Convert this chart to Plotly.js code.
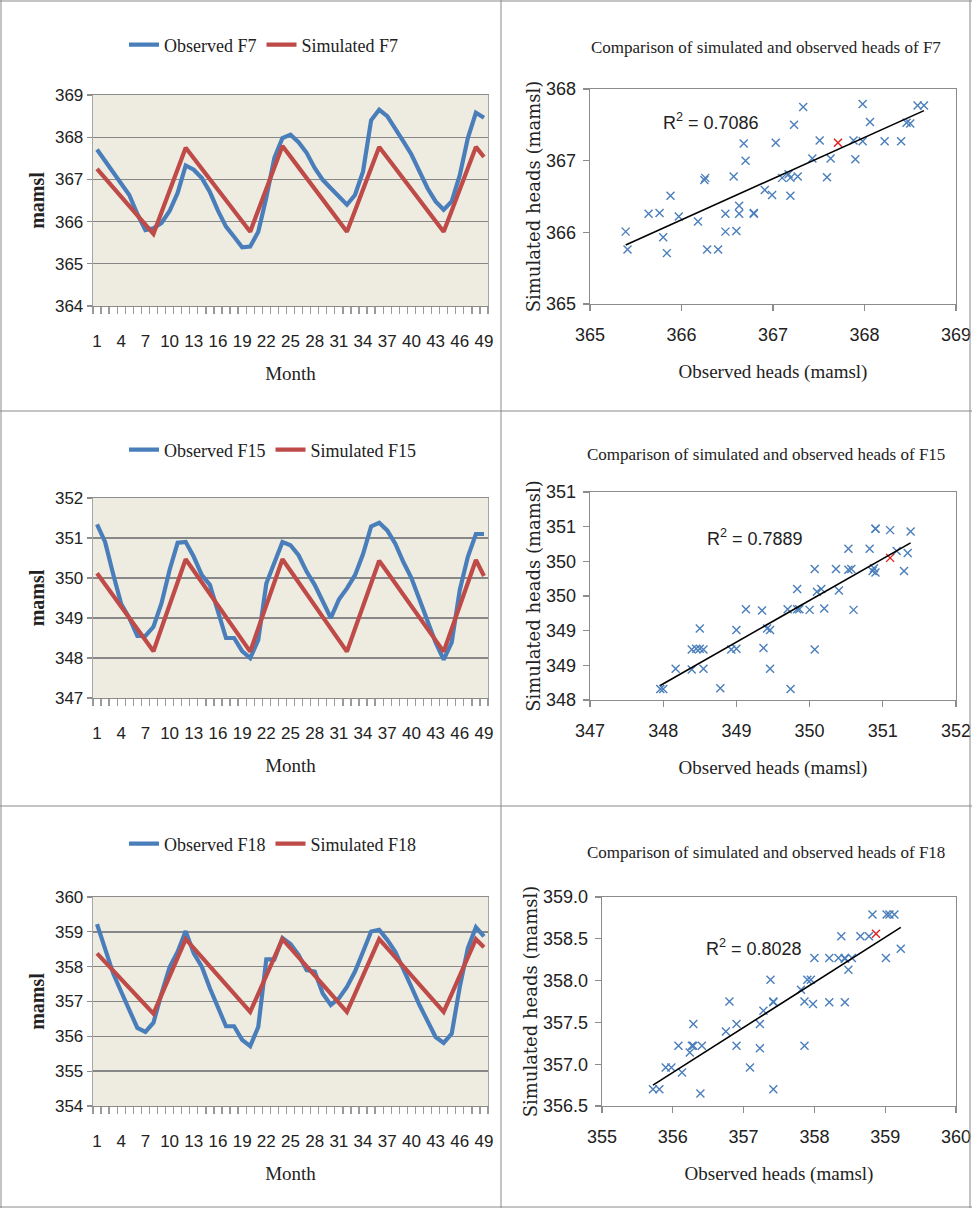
<!DOCTYPE html>
<html><head><meta charset="utf-8">
<script src="https://cdn.plot.ly/plotly-3.0.1.min.js"></script>
<style>html,body{margin:0;padding:0;background:#fff}#chart{width:972px;height:1208px}</style>
</head><body><div id="chart"></div>
<script>
// ---------------- data ----------------
const months = [1,2,3,4,5,6,7,8,9,10,11,12,13,14,15,16,17,18,19,20,21,22,23,24,25,26,27,28,29,30,31,32,33,34,35,36,37,38,39,40,41,42,43,44,45,46,47,48,49];
const monthTickLabels = [1,4,7,10,13,16,19,22,25,28,31,34,37,40,43,46,49];

const obsF7 = [367.71,367.43,367.17,366.91,366.63,366.18,365.80,365.84,365.97,366.25,
               366.68,367.33,367.23,367.03,366.70,366.26,365.88,365.64,365.39,365.41,
               365.76,366.57,367.51,367.98,368.06,367.88,367.63,367.27,366.99,366.79,
               366.60,366.40,366.63,367.19,368.40,368.65,368.50,368.22,367.90,367.59,
               367.19,366.79,366.48,366.28,366.48,367.10,367.98,368.58,368.46];
const simF7 = [367.25,367.03,366.81,366.59,366.37,366.15,365.93,365.71,366.22,366.73,
               367.24,367.75,367.50,367.25,367.00,366.76,366.51,366.26,366.01,365.76,
               366.27,366.78,367.28,367.79,367.54,367.28,367.03,366.78,366.52,366.27,
               366.02,365.76,366.26,366.76,367.27,367.77,367.52,367.27,367.02,366.77,
               366.51,366.26,366.01,365.76,366.26,366.76,367.27,367.77,367.53];

const obsF15 = [351.34,350.90,350.10,349.35,349.00,348.55,348.55,348.78,349.37,350.20,
                350.88,350.90,350.53,350.07,349.83,349.13,348.50,348.50,348.17,348.00,
                348.45,349.86,350.36,350.90,350.82,350.57,350.16,349.83,349.42,349.00,
                349.46,349.74,350.07,350.60,351.29,351.38,351.19,350.86,350.40,350.00,
                349.46,348.93,348.39,347.96,348.39,349.70,350.53,351.10,351.10];
const simF15 = [350.12,349.84,349.56,349.29,349.01,348.73,348.45,348.17,348.75,349.32,
                349.90,350.47,350.18,349.89,349.60,349.31,349.03,348.74,348.45,348.16,
                348.74,349.31,349.89,350.47,350.18,349.89,349.60,349.31,349.03,348.74,
                348.45,348.16,348.73,349.30,349.86,350.43,350.15,349.86,349.58,349.30,
                349.01,348.73,348.44,348.16,348.73,349.31,349.88,350.45,350.05];

const obsF18 = [359.22,358.48,357.81,357.28,356.75,356.24,356.13,356.39,357.23,357.98,
                358.43,359.02,358.38,358.00,357.38,356.80,356.29,356.29,355.90,355.72,
                356.27,358.21,358.21,358.82,358.65,358.34,357.90,357.86,357.23,356.90,
                357.09,357.42,357.86,358.43,359.01,359.06,358.77,358.43,357.95,357.42,
                356.90,356.41,355.98,355.81,356.08,357.42,358.53,359.13,358.87];
const simF18 = [358.38,358.13,357.89,357.64,357.39,357.14,356.90,356.65,357.19,357.72,
                358.26,358.79,358.53,358.27,358.01,357.75,357.48,357.22,356.96,356.70,
                357.22,357.74,358.27,358.79,358.53,358.27,358.01,357.75,357.48,357.22,
                356.96,356.70,357.22,357.74,358.27,358.79,358.53,358.27,358.01,357.75,
                357.48,357.22,356.96,356.70,357.22,357.74,358.27,358.79,358.56];

const wellNames = ["F7","F15","F18"];
const r2Values = ["0.7086","0.7889","0.8028"];
const highlightMonth = [1, 49, 49];   // point drawn in red on each scatter

// ---------------- styling ----------------
const BLUE = '#4A7EBB', RED = '#BE4B48', HL = '#E0201E';
const SERIF = "'Liberation Serif','Times New Roman',serif";
const NARROW = "'Liberation Sans Narrow','Liberation Sans',Arial,sans-serif";
const W = 972, H = 1208;
const px = v => v / W, py = v => 1 - v / H;

const obsAll = [obsF7, obsF15, obsF18];
const simAll = [simF7, simF15, simF18];

// layout geometry (pixel positions in the page)
const leftPlots = [ {top:95, bot:306}, {top:498, bot:698}, {top:897, bot:1106} ];
const leftYRange = [[364,369],[347,352],[354,360]];
const rightPlots = [ {left:590, top:89, bot:304}, {left:590, top:492, bot:700}, {left:602, top:897, bot:1106} ];
const rightXRange = [[365,369],[347,352],[355,360]];
const rightYRange = [[365,368],[348,351],[356.5,359]];
const rightYDtick = [1,0.5,0.5];
const rightYFormat = ['d','.0f','.1f'];
const legendY = [45, 450, 844];
const titleY = [47, 455, 852];
const r2Pos = [[366.32,367.55],[349.25,350.35],[357.15,358.4]];

const boundaries = [];
for (let i = 0; i <= months.length; i++) boundaries.push(i + 0.5);

const data = [];
const layout = {
  width: W, height: H, margin: {l:0, r:0, t:0, b:0},
  paper_bgcolor: '#fff', plot_bgcolor: '#fff', showlegend: true,
  shapes: [], annotations: []
};

for (let k = 0; k < 3; k++) {
  const lx = 2*k + 1, rx = 2*k + 2;
  const lxs = lx === 1 ? '' : String(lx);
  const rxs = String(rx);
  const legendId = k === 0 ? 'legend' : 'legend' + (k+1);

  // ---- time series ----
  data.push({x: months, y: obsAll[k], xaxis:'x'+lxs, yaxis:'y'+lxs, type:'scatter', mode:'lines',
    name:'Observed ' + wellNames[k], legend: legendId, line:{color:BLUE, width:4.2}});
  data.push({x: months, y: simAll[k], xaxis:'x'+lxs, yaxis:'y'+lxs, type:'scatter', mode:'lines',
    name:'Simulated ' + wellNames[k], legend: legendId, line:{color:RED, width:4.2}});

  layout['xaxis'+lxs] = {
    domain:[px(93), px(488)], anchor:'y'+lxs, range:[0.5,49.5],
    tickmode:'array', tickvals: monthTickLabels, ticktext: monthTickLabels.map(String),
    ticks:'outside', ticklen:19, tickcolor:'rgba(0,0,0,0)',
    tickfont:{family:NARROW, size:17, color:'#222'},
    minor:{tickmode:'array', tickvals: boundaries, ticks:'outside', ticklen:7, tickcolor:'#9A9A9A', tickwidth:1.3, showgrid:false},
    showgrid:false, zeroline:false, showline:true, linecolor:'#8C8C8C', linewidth:1.3, mirror:true,
    title:{text:'Month', font:{family:SERIF, size:19, color:'#222'}, standoff:17}
  };
  layout['yaxis'+lxs] = {
    domain:[py(leftPlots[k].bot), py(leftPlots[k].top)], anchor:'x'+lxs,
    range: leftYRange[k], dtick:1, tickmode:'linear', tick0: leftYRange[k][0],
    ticks:'outside', ticklen:5, tickcolor:'#8C8C8C', tickwidth:1.3,
    tickfont:{family:NARROW, size:17, color:'#222'},
    showgrid:true, gridcolor:'#878787', gridwidth:1.4, zeroline:false,
    showline:true, linecolor:'#A6A6A6', linewidth:1.3, mirror:true,
    title:{text:'mamsl', font:{family:SERIF, size:20, color:'#222', weight:'bold'}, standoff:5}
  };
  layout.shapes.push({type:'rect', xref:'x'+lxs+' domain', yref:'y'+lxs+' domain', x0:0, x1:1, y0:0, y1:1,
    fillcolor:'#EEECE1', line:{width:0}, layer:'below'});

  layout[legendId] = {
    x: px(124), y: py(legendY[k]), xanchor:'left', yanchor:'middle', orientation:'h',
    font:{family:SERIF, size:18, color:'#222'}, bgcolor:'rgba(0,0,0,0)', itemwidth:30
  };

  // ---- scatter comparison ----
  const ob = obsAll[k], sm = simAll[k];
  const colors = ob.map((_, i) => (months[i] === highlightMonth[k] ? HL : BLUE));
  data.push({x: ob, y: sm, xaxis:'x'+rxs, yaxis:'y'+rxs, type:'scatter', mode:'markers', showlegend:false,
    marker:{symbol:'x-thin', size:8, color: colors, line:{color: colors, width:1.4}}});

  // least squares trend line
  const n = ob.length;
  const mx = ob.reduce((a,b)=>a+b,0)/n, my = sm.reduce((a,b)=>a+b,0)/n;
  let sxy = 0, sxx = 0;
  for (let i = 0; i < n; i++) { sxy += (ob[i]-mx)*(sm[i]-my); sxx += (ob[i]-mx)*(ob[i]-mx); }
  const slope = sxy/sxx, icpt = my - slope*mx;
  const xmin = Math.min(...ob), xmax = Math.max(...ob);
  data.push({x:[xmin,xmax], y:[icpt+slope*xmin, icpt+slope*xmax], xaxis:'x'+rxs, yaxis:'y'+rxs,
    type:'scatter', mode:'lines', showlegend:false, line:{color:'#000', width:1.6}});

  layout['xaxis'+rxs] = {
    domain:[px(rightPlots[k].left), px(956)], anchor:'y'+rxs, range: rightXRange[k], dtick:1, tickmode:'linear',
    tick0: rightXRange[k][0], ticks:'outside', ticklen:6, tickcolor:'#8C8C8C', tickwidth:1.3,
    ticklabelstandoff:8,
    tickfont:{family:NARROW, size:18, color:'#222'},
    showgrid:false, zeroline:false, showline:true, linecolor:'#8C8C8C', linewidth:1.3, mirror:true,
    title:{text:'Observed heads (mamsl)', font:{family:SERIF, size:19, color:'#222'}, standoff:20}
  };
  layout['yaxis'+rxs] = {
    domain:[py(rightPlots[k].bot), py(rightPlots[k].top)], anchor:'x'+rxs, range: rightYRange[k],
    dtick: rightYDtick[k], tickmode:'linear', tick0: rightYRange[k][0], tickformat: rightYFormat[k],
    ticks:'outside', ticklen:6, tickcolor:'#8C8C8C', tickwidth:1.3, ticklabelstandoff:3,
    tickfont:{family:NARROW, size:18, color:'#222'},
    showgrid:false, zeroline:false, showline:true, linecolor:'#8C8C8C', linewidth:1.3, mirror:true,
    title:{text:'Simulated heads (mamsl)', font:{family:"'DejaVu Serif',serif", size:18, color:'#222'}, standoff:0}
  };

  layout.annotations.push({xref:'paper', yref:'paper', x: px(766), y: py(titleY[k]), xanchor:'center', yanchor:'middle',
    text:'Comparison of simulated and observed heads of ' + wellNames[k], showarrow:false,
    font:{family:SERIF, size:17, color:'#222'}});
  layout.annotations.push({xref:'x'+rxs, yref:'y'+rxs, x: r2Pos[k][0], y: r2Pos[k][1], xanchor:'center', yanchor:'middle',
    text:'R<sup>2</sup> = ' + r2Values[k], showarrow:false, font:{family:NARROW, size:18, color:'#222'}});
}

// table-like frame around the six panels
const frameColor = '#8A8A8A';
[[1,0,1,H],[501,0,501,H],[970,0,970,H],[0,1,W,1],[0,411,W,411],[0,806,W,806],[0,1207,W,1207]].forEach(s => {
  layout.shapes.push({type:'line', xref:'paper', yref:'paper', x0:px(s[0]), x1:px(s[2]), y0:py(s[1]), y1:py(s[3]),
    line:{color:frameColor, width:1}, layer:'above'});
});

Plotly.newPlot('chart', data, layout, {displayModeBar:false, staticPlot:true});
</script>
</body></html>
